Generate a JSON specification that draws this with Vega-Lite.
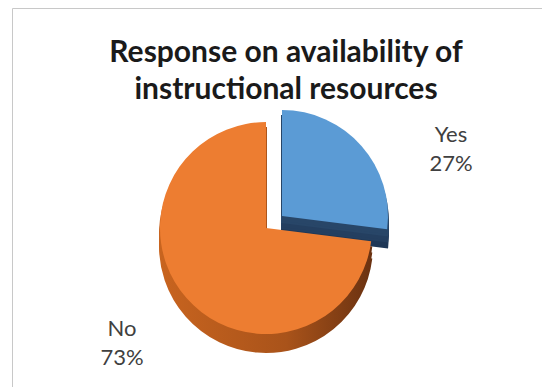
{
  "$schema": "https://vega.github.io/schema/vega-lite/v6.json",
  "autosize": "none",
  "width": 548,
  "height": 440,
  "padding": {"left": 12, "top": 8, "right": 0, "bottom": 0},
  "background": "white",
  "view": {"stroke": "#c8c8c8", "strokeWidth": 1},
  "title": {
    "text": ["Response on availability of", "instructional resources"],
    "font": "Lato",
    "fontSize": 30,
    "fontWeight": "bold",
    "color": "#1a1a1a",
    "anchor": "middle",
    "lineHeight": 37,
    "offset": -97
  },
  "data": {"values": [
    {"Response": "Yes", "Share": 0.27},
    {"Response": "No", "Share": 0.73}
  ]},
  "encoding": {
    "theta": {"field": "Share", "type": "quantitative", "stack": true},
    "order": {"field": "Response", "sort": "descending"}
  },
  "layer": [
    {"mark": {"type": "arc", "radius": 106, "xOffset": -4, "yOffset": 6, "fill": "#1f3857", "stroke": "#1f3857", "strokeWidth": 2},
     "encoding": {"opacity": {"condition": {"test": "datum.Response === 'Yes'", "value": 1}, "value": 0}}},
    {"mark": {"type": "arc", "radius": 106, "xOffset": -4, "yOffset": 0, "fill": "#243f60", "stroke": "#243f60", "strokeWidth": 2},
     "encoding": {"opacity": {"condition": {"test": "datum.Response === 'Yes'", "value": 1}, "value": 0}}},
    {"mark": {"type": "arc", "radius": 106, "xOffset": -4, "yOffset": -6, "fill": "#284668", "stroke": "#284668", "strokeWidth": 2},
     "encoding": {"opacity": {"condition": {"test": "datum.Response === 'Yes'", "value": 1}, "value": 0}}},
    {"mark": {"type": "arc", "radius": 106, "xOffset": -4, "yOffset": -12, "fill": "#5b9bd5"},
     "encoding": {"opacity": {"condition": {"test": "datum.Response === 'Yes'", "value": 1}, "value": 0}}},
    {"mark": {"type": "arc", "radius": 106, "xOffset": -20, "yOffset": 18,
      "fill": {"gradient": "linear", "x1": 0, "y1": 0, "x2": 1, "y2": 0, "stops": [{"offset": 0, "color": "#c8641f"}, {"offset": 0.6, "color": "#a9531a"}, {"offset": 1, "color": "#6b3211"}]},
      "stroke": {"gradient": "linear", "x1": 0, "y1": 0, "x2": 1, "y2": 0, "stops": [{"offset": 0, "color": "#c8641f"}, {"offset": 0.6, "color": "#a9531a"}, {"offset": 1, "color": "#6b3211"}]},
      "strokeWidth": 2},
     "encoding": {"opacity": {"condition": {"test": "datum.Response === 'No'", "value": 1}, "value": 0}}},
    {"mark": {"type": "arc", "radius": 106, "xOffset": -20, "yOffset": 12,
      "fill": {"gradient": "linear", "x1": 0, "y1": 0, "x2": 1, "y2": 0, "stops": [{"offset": 0, "color": "#c8641f"}, {"offset": 0.6, "color": "#a9531a"}, {"offset": 1, "color": "#6b3211"}]},
      "stroke": {"gradient": "linear", "x1": 0, "y1": 0, "x2": 1, "y2": 0, "stops": [{"offset": 0, "color": "#c8641f"}, {"offset": 0.6, "color": "#a9531a"}, {"offset": 1, "color": "#6b3211"}]},
      "strokeWidth": 2},
     "encoding": {"opacity": {"condition": {"test": "datum.Response === 'No'", "value": 1}, "value": 0}}},
    {"mark": {"type": "arc", "radius": 106, "xOffset": -20, "yOffset": 6,
      "fill": {"gradient": "linear", "x1": 0, "y1": 0, "x2": 1, "y2": 0, "stops": [{"offset": 0, "color": "#c8641f"}, {"offset": 0.6, "color": "#a9531a"}, {"offset": 1, "color": "#6b3211"}]},
      "stroke": {"gradient": "linear", "x1": 0, "y1": 0, "x2": 1, "y2": 0, "stops": [{"offset": 0, "color": "#c8641f"}, {"offset": 0.6, "color": "#a9531a"}, {"offset": 1, "color": "#6b3211"}]},
      "strokeWidth": 2},
     "encoding": {"opacity": {"condition": {"test": "datum.Response === 'No'", "value": 1}, "value": 0}}},
    {"mark": {"type": "arc", "radius": 106, "xOffset": -20, "yOffset": 0, "fill": "#ed7d31"},
     "encoding": {"opacity": {"condition": {"test": "datum.Response === 'No'", "value": 1}, "value": 0}}},
    {"mark": {"type": "text", "radius": 140, "dx": 60, "dy": 0, "font": "Lato", "fontSize": 22, "color": "#404040", "align": "center", "baseline": "middle"},
     "encoding": {"text": {"field": "Response"}, "opacity": {"condition": {"test": "datum.Response === 'Yes'", "value": 1}, "value": 0}}},
    {"mark": {"type": "text", "radius": 140, "dx": 60, "dy": 29, "font": "Lato", "fontSize": 22, "color": "#404040", "align": "center", "baseline": "middle"},
     "encoding": {"text": {"field": "Share", "format": ".0%"}, "opacity": {"condition": {"test": "datum.Response === 'Yes'", "value": 1}, "value": 0}}},
    {"mark": {"type": "text", "radius": 140, "dx": -59, "dy": 8, "font": "Lato", "fontSize": 22, "color": "#404040", "align": "center", "baseline": "middle"},
     "encoding": {"text": {"field": "Response"}, "opacity": {"condition": {"test": "datum.Response === 'No'", "value": 1}, "value": 0}}},
    {"mark": {"type": "text", "radius": 140, "dx": -59, "dy": 37, "font": "Lato", "fontSize": 22, "color": "#404040", "align": "center", "baseline": "middle"},
     "encoding": {"text": {"field": "Share", "format": ".0%"}, "opacity": {"condition": {"test": "datum.Response === 'No'", "value": 1}, "value": 0}}}
  ]
}
